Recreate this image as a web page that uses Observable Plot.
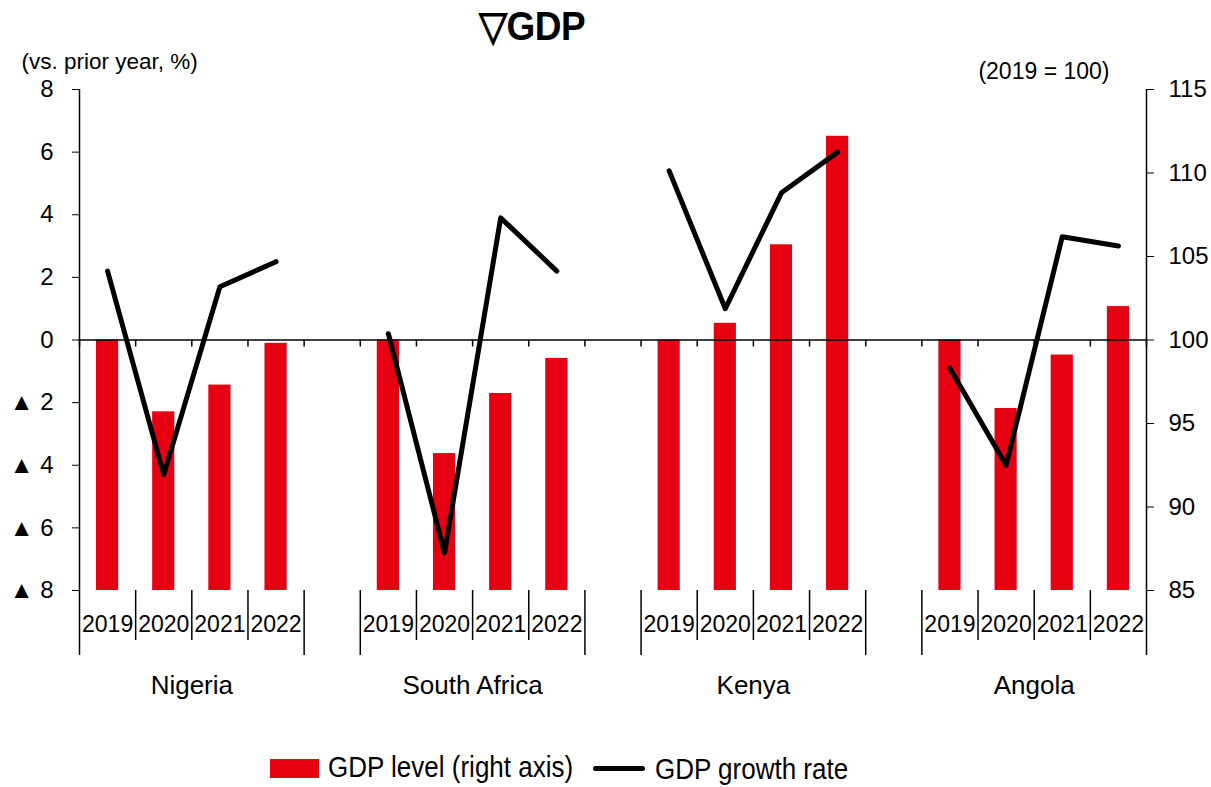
<!DOCTYPE html>
<html>
<head>
<meta charset="utf-8">
<script src="https://cdn.jsdelivr.net/npm/d3@7"></script>
<script src="https://cdn.jsdelivr.net/npm/@observablehq/plot@0.6"></script>
<style>
  body { margin: 0; background: #fff; font-family: "Liberation Sans", Arial, sans-serif; color: #000; }
  #title { position: relative; height: 48px; }
  #title span { position: absolute; left: 479px; top: 2px; font-size: 37px; font-weight: bold; letter-spacing: -0.5px; transform: scaleY(1.12); transform-origin: top left; }
  #chart svg { display: block; overflow: visible; }
  #legend { position: relative; height: 59px; font-size: 26px; }
  #legend .sw { position: absolute; left: 270px; top: 31px; width: 49px; height: 19px; background: #e60012; }
  #legend .ln { position: absolute; left: 593px; top: 38px; width: 52px; height: 5px; border-radius: 3px; background: #000; }
  #legend .t1 { position: absolute; left: 328px; top: 24px; line-height: 30px; transform: scaleY(1.12); }
  #legend .t2 { position: absolute; left: 655px; top: 26px; line-height: 30px; transform: scaleY(1.12); }
</style>
</head>
<body>
<div id="title"><span>▽GDP</span></div>
<div id="chart"></div>
<div id="legend">
  <div class="sw"></div><div class="t1">GDP level (right axis)</div>
  <div class="ln"></div><div class="t2">GDP growth rate</div>
</div>
<script>
// ---- data ----
const countries = ["Nigeria", "South Africa", "Kenya", "Angola"];
const years = ["2019", "2020", "2021", "2022"];
// GDP level, 2019 = 100 (right axis)
const levelNigeria = [100, 95.7, 97.3, 99.8];
const levelSouthAfrica = [100, 93.2, 96.8, 98.9];
const levelKenya = [100, 101.0, 105.7, 112.2];
const levelAngola = [100, 95.9, 99.1, 102.0];
// GDP growth rate, vs. prior year % (left axis)
const growthNigeria = [2.2, -4.3, 1.7, 2.5];
const growthSouthAfrica = [0.2, -6.8, 3.9, 2.2];
const growthKenya = [5.4, 1.0, 4.7, 6.0];
const growthAngola = [-0.9, -4.0, 3.3, 3.0];
const leftTicks = [-8, -6, -4, -2, 0, 2, 4, 6, 8];
const rightTicks = [85, 90, 95, 100, 105, 110, 115];

const levels = [levelNigeria, levelSouthAfrica, levelKenya, levelAngola];
const growths = [growthNigeria, growthSouthAfrica, growthKenya, growthAngola];

// map right axis (index) onto the left scale
const lMin = leftTicks[0], lMax = leftTicks[leftTicks.length - 1];
const rMin = rightTicks[0], rMax = rightTicks[rightTicks.length - 1];
const toLeft = v => lMin + (v - rMin) * (lMax - lMin) / (rMax - rMin);
const fromLeft = d => rMin + (d - lMin) * (rMax - rMin) / (lMax - lMin);

const perGroup = years.length + 1; // one empty slot between groups
const rows = [];
countries.forEach((c, ci) => years.forEach((y, yi) => rows.push({
  country: c, year: y, slot: ci * perGroup + yi, level: levels[ci][yi], growth: growths[ci][yi]
})));
const edges = [];
countries.forEach((c, ci) => { for (let k = 0; k <= years.length; k++) edges.push({pos: ci * perGroup + k, outer: k === 0 || k === years.length}); });
const groupCenters = countries.map((c, ci) => ({country: c, pos: ci * perGroup + years.length / 2}));
const xMax = countries.length * perGroup - 1;

// ---- layout ----
const W = 1211, H = 680, mTop = 41, mBottom = 138, mLeft = 79, mRight = W - 1146;
const plotH = H - mTop - mBottom;
const red = "#e60012";

const chart = Plot.plot({
  width: W, height: H,
  marginTop: mTop, marginBottom: mBottom, marginLeft: mLeft, marginRight: mRight,
  x: {type: "linear", domain: [0, xMax], axis: null},
  y: {type: "linear", domain: [lMin, lMax], axis: null},
  style: {fontFamily: "'Liberation Sans', Arial, sans-serif", fontSize: "22px", color: "#000", background: "#fff"},
  marks: [
    Plot.rectY(rows, {x1: "slot", x2: d => d.slot + 1, y1: d => toLeft(rMin), y2: d => toLeft(d.level), fill: red, insetLeft: 17, insetRight: 17}),
    Plot.ruleY([0], {stroke: "#000", strokeWidth: 1.5}),
    Plot.ruleX(edges, {x: "pos", y1: d => 0, y2: d => 0, insetBottom: -7, stroke: "#000", strokeWidth: 1.5}),
    Plot.ruleX(edges.filter(d => d.outer), {x: "pos", insetTop: plotH, insetBottom: -65, stroke: "#000", strokeWidth: 1.5}),
    Plot.ruleX(edges.filter(d => !d.outer), {x: "pos", insetTop: plotH, insetBottom: -50, stroke: "#000", strokeWidth: 1.5}),
    Plot.ruleX([0, xMax], {stroke: "#000", strokeWidth: 1.5}),
    Plot.line(rows, {x: d => d.slot + 0.5, y: "growth", z: "country", stroke: "#000", strokeWidth: 5, strokeLinecap: "round", strokeLinejoin: "round"}),
    Plot.axisY(leftTicks, {anchor: "left", label: null, tickSize: 7, tickPadding: 19, fontSize: 24,
      tickFormat: d => d < 0 ? "▲ " + (-d) : String(d)}),
    Plot.axisY(rightTicks.map(toLeft), {anchor: "right", label: null, tickSize: 7, tickPadding: 15, fontSize: 24,
      tickFormat: d => String(Math.round(fromLeft(d)))}),
    Plot.text(rows, {x: d => d.slot + 0.5, text: "year", frameAnchor: "bottom", dy: 41, fontSize: 23}),
    Plot.text(groupCenters, {x: "pos", text: "country", frameAnchor: "bottom", dy: 103, fontSize: 26}),
    Plot.text(["(vs. prior year, %)"], {frameAnchor: "top-left", dx: -58, dy: -36, textAnchor: "start", fontSize: 22.5}),
    Plot.text(["(2019 = 100)"], {frameAnchor: "top-right", dx: -37, dy: -27, textAnchor: "end", fontSize: 23})
  ]
});
document.getElementById("chart").appendChild(chart);
</script>
</body>
</html>
